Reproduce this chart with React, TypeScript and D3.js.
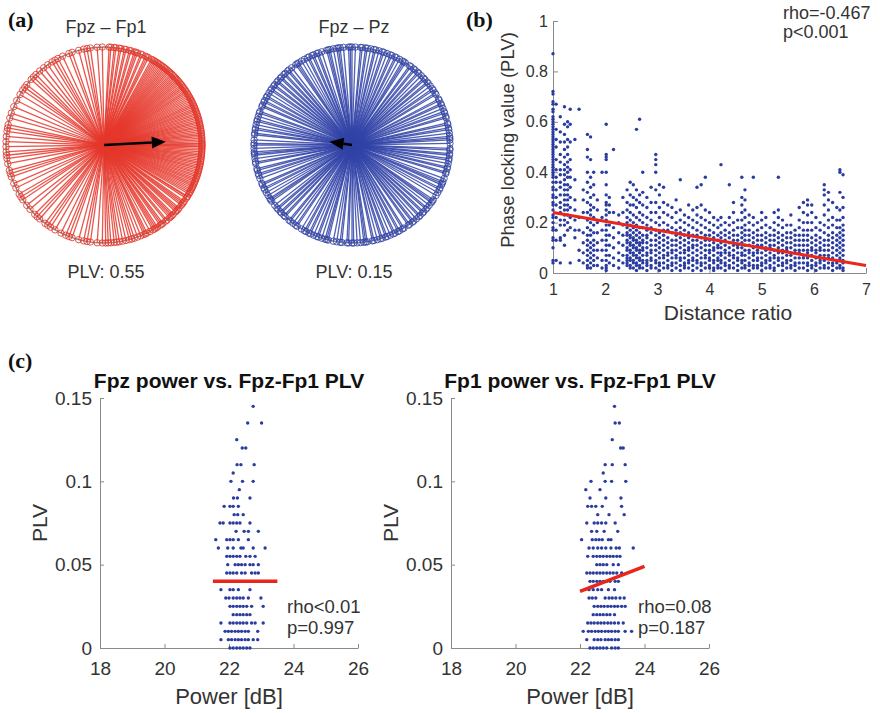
import React, { useRef, useEffect } from "react";
import * as d3 from "d3";

// (a) phase angles (deg, counter-clockwise from east) for each trial
const fp1Angles = [
  -89, -87.5, -86, -84, -82.5, -81, -79, -77, -75, -73.5, -72, -70, -68, -66, -65, -64, -62, -60, -59,
  -58, -57, -55, -54, -53, -51, -50, -48, -47, -46, -45, -43, -42, -41, -40, -38, -37, -36, -35, -33,
  -32, -31.5, -30, -29, -28, -27, -26, -25, -24, -23, -22, -21, -20, -19, -18, -17, -16, -15, -14, -13,
  -12, -11, -10, -9, -8, -7, -6, -5, -4, -3, -2, -1, -0.5, 0.5, 1, 2, 3, 4, 5, 6, 7, 8, 9, 10, 11, 12,
  13, 14, 15, 16, 17, 18, 19, 20, 21, 22, 23, 24, 25, 26, 27, 28, 29, 30, 31, 32, 33, 34, 35, 36, 37,
  38, 39, 40, 41, 42, 43, 44, 45, 46, 47, 48, 49, 50, 51, 52, 53, 54, 55, 56, 57, 58, 59, 60, 61, 63,
  64, 65, 67, 68, 70, 71, 72, 74, 75, 77, 78, 80, 81, 83, 84, 86, 87, 91, 94, 98, 100, 102, 105, 109,
  111, 115, 118, 120, 122, 125, 128, 131, 134, 136, 138, 142, 144, 146, 149, 153, 157, 161, 164, 168,
  170, 172, 175, 178, 181, 184, 186, 188, 191, 195, 197, 199, 203, 206, 210, 212, 214, 218, 221, 225,
  227, 229, 233, 235, 237, 240, 244, 247, 249, 251, 255, 258, 260, 262, 266, 269,
];
const pzAngles = [
  1, 3, 4, 5, 7, 9, 10, 12, 13, 16, 17, 19, 20, 22, 24, 25, 27, 28, 31, 32, 34, 35, 37, 39, 40, 42, 43,
  45, 47, 48, 50, 51, 53, 54, 57, 58, 59, 61, 63, 64, 66, 67, 69, 71, 72, 74, 76, 77, 79, 81, 82, 84,
  85, 88, 90, 91, 92, 95, 97, 98, 99, 101, 103, 104, 105, 108, 110, 111, 113, 114, 116, 117, 119, 121,
  123, 124, 125, 128, 130, 131, 133, 134, 136, 137, 139, 140, 142, 143, 145, 146, 148, 150, 151, 153,
  154, 156, 157, 160, 161, 163, 165, 166, 168, 170, 171, 173, 174, 177, 179, 180, 182, 184, 185, 186,
  188, 190, 191, 194, 195, 197, 198, 200, 203, 204, 206, 207, 209, 211, 213, 214, 215, 218, 220, 221,
  223, 224, 226, 227, 230, 231, 233, 235, 236, 239, 241, 242, 244, 245, 247, 249, 250, 252, 254, 255,
  256, 259, 261, 263, 264, 267, 268, 270, 271, 273, 275, 277, 278, 279, 282, 283, 285, 287, 288, 290,
  291, 293, 295, 296, 298, 299, 301, 302, 305, 306, 308, 309, 311, 313, 314, 316, 317, 319, 320, 322,
  324, 325, 326, 329, 331, 333, 334, 336, 337, 338, 340, 343, 344, 346, 347, 349, 351, 352, 354, 355,
  357, 358,
];
const pairTitles = ["Fpz \u2013 Fp1", "Fpz \u2013 Pz"];
const pairPlv = [0.55, 0.15];
const pairMeanAngle = [3, 172];
const pairColors = ["#e5372c", "#3143a7"];

// (b) PLV vs distance ratio; PLV values in hundredths, one list per ratio column
const ratioCols = [
  1.0, 1.06, 1.14, 1.22, 1.28, 1.33, 1.42, 1.5, 1.58, 1.66, 1.72, 1.78, 1.85, 1.94, 2.02, 2.08, 2.16,
  2.26, 2.34, 2.42, 2.48, 2.54, 2.6, 2.66, 2.72, 2.8, 2.88, 2.97, 3.04, 3.12, 3.2, 3.28, 3.36, 3.44,
  3.52, 3.6, 3.68, 3.76, 3.84, 3.92, 4.0, 4.08, 4.16, 4.22, 4.3, 4.38, 4.46, 4.54, 4.62, 4.68, 4.76,
  4.84, 4.92, 5.0, 5.08, 5.16, 5.24, 5.32, 5.4, 5.48, 5.56, 5.64, 5.72, 5.8, 5.88, 5.96, 6.04, 6.12,
  6.2, 6.28, 6.36, 6.44, 6.5, 6.56,
];
const plvCols = [
  [87, 72, 71, 68, 67, 65, 64, 62, 61, 60, 59, 58, 57, 56, 55, 54, 53, 52, 51, 50, 49, 48, 47, 46, 45, 44, 43, 42, 41, 40, 39, 38, 36, 34, 33, 31, 30, 28, 27, 25, 23, 22, 20, 18, 17, 14, 13, 10, 5, 4],
  [67, 57, 53, 50, 45, 41, 38, 36, 33, 30, 27, 22, 17, 13, 5],
  [62, 56, 52, 47, 44, 41, 39, 36, 34, 31, 28, 26, 24, 21, 19, 14, 13, 4],
  [66, 59, 55, 52, 49, 46, 43, 41, 39, 37, 35, 33, 31, 29, 27, 25, 23, 21, 19, 15, 11],
  [60, 58, 53, 50, 47, 44, 42, 40, 38, 35, 33, 31, 29, 27, 25, 23, 20, 17],
  [65, 59, 52, 45, 41, 38, 34, 30, 26, 22, 18, 4],
  [53, 37, 29, 25, 21, 17, 14],
  [65, 22, 17, 9, 5],
  [33, 29, 24, 16, 12, 8, 4],
  [55, 49, 46, 40, 36, 32, 28, 24, 21, 18, 15, 13, 11, 9, 7, 5, 3, 2],
  [54, 45, 38, 34, 30, 27, 25, 23, 20, 17, 15, 12, 10, 8, 6, 4, 2],
  [40, 35, 31, 26, 22, 19, 16, 13, 11, 9, 7, 5, 3],
  [29, 25, 20, 16, 12, 9, 6, 3],
  [40, 22, 17, 13, 9, 5, 2],
  [59, 47, 46, 45, 40, 35, 31, 28, 27, 25, 23, 21, 19, 17, 15, 13, 11, 9, 7, 5, 3, 2, 1],
  [30, 27, 24, 19, 15, 11, 7, 4],
  [49, 24, 18, 14, 10, 6, 3],
  [23, 20, 16, 12, 8, 5, 2],
  [30, 24, 19, 15, 11, 7, 4],
  [33, 28, 25, 22, 20, 18, 16, 15, 13, 12, 10, 9, 7, 6, 5, 4, 3],
  [36, 31, 27, 24, 21, 19, 17, 15, 14, 12, 11, 9, 8, 6, 5, 3, 2],
  [35, 30, 27, 23, 20, 18, 16, 14, 13, 11, 10, 8, 7, 5, 4, 2],
  [57, 33, 29, 26, 22, 19, 17, 15, 13, 12, 10, 9, 7, 6, 4, 3, 1],
  [61, 31, 28, 24, 21, 18, 16, 14, 12, 11, 9, 8, 6, 5, 3, 2],
  [40, 32, 27, 23, 20, 18, 15, 13, 12, 10, 9, 7, 5, 4, 2],
  [30, 26, 22, 19, 17, 15, 14, 12, 10, 8, 7, 5, 4, 3, 1],
  [34, 28, 24, 21, 18, 16, 13, 11, 9, 8, 6, 5, 3, 2],
  [47, 45, 43, 40, 33, 28, 24, 20, 17, 15, 13, 11, 9, 7, 5, 4, 2],
  [35, 31, 26, 22, 19, 16, 14, 12, 10, 8, 6, 4, 3, 1],
  [34, 28, 24, 20, 17, 15, 13, 11, 9, 7, 6, 4, 2],
  [27, 23, 19, 17, 14, 12, 10, 8, 7, 5, 3, 2],
  [26, 22, 18, 16, 13, 11, 9, 8, 6, 4, 3, 1],
  [29, 24, 20, 17, 15, 13, 11, 9, 7, 6, 4, 2],
  [37, 25, 21, 18, 16, 14, 12, 10, 8, 6, 5, 3, 1],
  [23, 20, 17, 15, 13, 11, 9, 8, 6, 4, 3, 2],
  [27, 22, 19, 16, 14, 12, 10, 9, 7, 5, 4, 2],
  [25, 21, 18, 15, 13, 11, 10, 8, 6, 5, 3, 1],
  [34, 26, 23, 20, 17, 15, 13, 11, 9, 7, 5, 4, 2],
  [35, 27, 22, 19, 16, 14, 12, 10, 8, 6, 4, 3, 1],
  [38, 25, 21, 18, 15, 13, 11, 9, 7, 6, 4, 2],
  [24, 20, 17, 15, 13, 11, 9, 8, 6, 5, 3, 2],
  [22, 19, 16, 14, 12, 10, 9, 7, 5, 4, 2, 1],
  [21, 18, 15, 13, 11, 10, 8, 6, 5, 3, 2],
  [43, 22, 19, 16, 14, 12, 10, 8, 7, 5, 4, 2],
  [20, 17, 15, 13, 11, 9, 8, 6, 4, 3, 1],
  [35, 22, 19, 16, 14, 12, 10, 8, 7, 5, 3, 2],
  [28, 24, 20, 17, 15, 13, 11, 9, 7, 6, 4, 2],
  [21, 18, 15, 13, 11, 10, 8, 6, 5, 3, 1],
  [38, 30, 27, 24, 21, 18, 16, 14, 12, 10, 8, 7, 5, 4, 2],
  [33, 29, 25, 22, 19, 17, 15, 13, 11, 9, 7, 5, 3, 2],
  [23, 20, 17, 15, 13, 11, 9, 8, 6, 4, 3, 1],
  [38, 22, 19, 16, 14, 12, 10, 8, 7, 5, 3, 2],
  [20, 17, 15, 13, 11, 9, 8, 6, 5, 3, 2],
  [24, 21, 18, 15, 13, 11, 10, 8, 6, 4, 3, 1],
  [22, 19, 16, 14, 12, 10, 9, 7, 5, 4, 2],
  [18, 15, 13, 11, 10, 8, 6, 5, 3, 2],
  [24, 20, 17, 15, 13, 11, 9, 7, 6, 4, 2, 1],
  [38, 25, 22, 19, 16, 14, 12, 10, 8, 6, 5, 3],
  [21, 18, 15, 13, 11, 9, 8, 6, 4, 3, 1],
  [19, 16, 14, 12, 10, 9, 7, 5, 4, 2],
  [23, 19, 16, 14, 12, 10, 8, 7, 5, 3, 2],
  [17, 15, 13, 11, 9, 8, 6, 4, 3, 1],
  [26, 21, 18, 15, 13, 11, 9, 8, 6, 4, 2],
  [28, 24, 20, 17, 15, 13, 11, 9, 7, 6, 4, 2],
  [29, 27, 23, 20, 17, 15, 13, 11, 9, 8, 6, 4, 3, 1],
  [27, 24, 20, 17, 14, 12, 10, 9, 7, 5, 3, 2],
  [22, 18, 15, 13, 11, 9, 8, 6, 4, 3, 1],
  [20, 17, 14, 12, 10, 9, 7, 5, 4, 2],
  [35, 33, 31, 27, 23, 19, 16, 13, 11, 9, 7, 5, 3, 2],
  [32, 29, 25, 21, 18, 15, 13, 11, 9, 7, 6, 4, 2],
  [28, 22, 19, 16, 14, 12, 10, 8, 6, 4, 3, 1],
  [26, 21, 18, 15, 13, 11, 9, 7, 5, 4, 2],
  [41, 40, 32, 25, 21, 18, 16, 14, 12, 10, 8, 6, 5, 3, 2],
  [39, 30, 26, 22, 19, 17, 15, 13, 11, 9, 7, 5, 4, 2, 1],
];
const distanceFit = [[1, 0.24], [7, 0.03]];
const ratioTicks = [1, 2, 3, 4, 5, 6, 7];
const plvTicksB = [0, 0.2, 0.4, 0.6, 0.8, 1];

// (c) PLV rows and the power values found on each row
const plvRows = [
  0.145, 0.135, 0.125, 0.12, 0.11, 0.105, 0.1, 0.095, 0.09, 0.085, 0.08, 0.075, 0.07, 0.065, 0.06,
  0.055, 0.05, 0.045, 0.04, 0.035, 0.03, 0.025, 0.02, 0.015, 0.01, 0.005, 0,
];
const fpzPower = [
  [22.75], [22.58, 23.01], [22.24], [22.41, 22.52], [22.25, 22.37, 22.78], [22.13],
  [22.06, 22.42, 22.75], [22.32], [22.14, 22.26, 22.65], [21.85, 22.03, 22.13, 22.29],
  [22.16, 22.27, 22.44], [21.72, 21.82, 22.03, 22.13, 22.24, 22.34, 22.65],
  [22.22, 22.47, 22.6, 22.91], [21.59, 21.93, 22.03, 22.13, 22.29, 22.6],
  [21.67, 21.96, 22.13, 22.37, 22.44, 22.75, 23.12],
  [21.93, 22.03, 22.13, 22.24, 22.34, 22.52, 22.65, 22.81],
  [21.96, 22.19, 22.29, 22.39, 22.5, 22.65, 22.75, 22.91],
  [21.93, 22.03, 22.13, 22.24, 22.39, 22.5, 22.7, 22.81, 22.91],
  [],
  [21.75, 22.03, 22.13, 22.29, 22.65],
  [21.9, 22.0, 22.13, 22.24, 22.34, 22.44, 22.6, 22.99],
  [22.03, 22.13, 22.24, 22.34, 22.44, 22.55, 22.7, 23.06],
  [22.13, 22.24, 22.34, 22.44, 22.55, 22.65],
  [21.75, 22.03, 22.13, 22.24, 22.34, 22.44, 22.55, 22.7, 22.81, 23.06],
  [21.88, 21.98, 22.08, 22.19, 22.29, 22.39, 22.5, 22.6, 22.89],
  [21.75, 21.98, 22.08, 22.19, 22.29, 22.39, 22.5, 22.6, 22.75, 22.89],
  [22.03, 22.13, 22.24, 22.34, 22.44, 22.55, 22.65],
];
const fp1Power = [
  [23.07], [23.09, 23.22], [23.0], [23.26, 23.34], [22.78, 23.0, 23.4], [22.72],
  [22.34, 22.78, 22.98, 23.42], [22.18, 22.62], [22.31, 22.8, 23.27],
  [22.24, 22.36, 22.49, 22.69, 23.29], [22.55, 22.9, 23.37],
  [22.21, 22.44, 22.55, 22.67, 22.8, 23.09], [22.36, 22.52, 22.75, 23.17],
  [22.05, 22.38, 22.49, 22.59, 22.69, 22.88, 22.96],
  [22.28, 22.41, 22.55, 22.67, 22.8, 22.96, 23.12, 23.22, 23.65],
  [22.24, 22.41, 22.52, 22.62, 22.72, 22.83, 22.93, 23.03, 23.14, 23.24],
  [22.52, 22.62, 22.72, 22.83, 23.03, 23.19],
  [22.21, 22.31, 22.41, 22.52, 22.62, 22.72, 22.83, 22.93, 23.03, 23.14, 23.29],
  [22.31, 22.41, 22.52, 22.62, 22.72, 22.83, 22.93, 23.09, 23.19],
  [22.28, 22.41, 22.55, 22.67, 22.88, 23.07],
  [22.28, 22.38, 22.49, 22.78, 22.9, 23.0, 23.11, 23.24, 23.37],
  [22.44, 22.55, 22.65, 22.75, 22.86, 22.96, 23.07, 23.17, 23.29, 23.4],
  [22.41, 22.52, 22.62, 22.72, 22.83, 22.93, 23.07],
  [22.24, 22.34, 22.44, 22.55, 22.65, 22.75, 22.86, 22.96, 23.07, 23.19, 23.34],
  [22.1, 22.26, 22.36, 22.47, 22.57, 22.67, 22.78, 22.88, 22.98, 23.09, 23.19, 23.4, 23.6],
  [22.21, 22.44, 22.55, 22.65, 22.78, 22.88, 22.98, 23.09, 23.19],
  [22.31, 22.41, 22.52, 22.62, 22.72, 22.83, 22.98, 23.09, 23.19],
];
const fpzFit = [[21.5, 0.04], [23.5, 0.04]];
const fp1Fit = [[22.0, 0.034], [24.0, 0.049]];
const powerTitles = ["Fpz power vs. Fpz-Fp1 PLV", "Fp1 power vs. Fpz-Fp1 PLV"];
const powerStats = [["rho<0.01", "p=0.997"], ["rho=0.08", "p=0.187"]];
const powerTicks = [18, 20, 22, 24, 26];
const plvTicksC = [0, 0.05, 0.1, 0.15];

const FONT = "'Liberation Sans', Arial, sans-serif";
const DOT = "#2a3c9f";
const FIT = "#e8261c";
const AXIS = "#8a8a8a";
const TEXT = "#333";

function styleAxis(g, size) {
  g.select(".domain").attr("stroke", AXIS).attr("stroke-width", 1);
  g.selectAll(".tick line").attr("stroke", AXIS);
  g.selectAll(".tick text").attr("fill", TEXT).style("font-size", size + "px").style("font-family", FONT);
}

export default function App() {
  const ref = useRef(null);

  useEffect(() => {
    const svg = d3.select(ref.current);
    svg.selectAll("*").remove();

    const label = (x, y, t, opts = {}) =>
      svg
        .append("text")
        .attr("x", x)
        .attr("y", y)
        .attr("text-anchor", opts.anchor || "start")
        .attr("transform", opts.rotate ? `rotate(-90,${x},${y})` : null)
        .style("font-family", opts.family || FONT)
        .style("font-size", (opts.size || 18) + "px")
        .style("font-weight", opts.bold ? "bold" : "normal")
        .attr("fill", opts.fill || TEXT)
        .text(t);

    // panel letters
    label(8, 27, "(a)", { family: "'Liberation Serif', serif", size: 22, bold: true, fill: "#111" });
    label(466, 27, "(b)", { family: "'Liberation Serif', serif", size: 22, bold: true, fill: "#111" });
    label(8, 368, "(c)", { family: "'Liberation Serif', serif", size: 22, bold: true, fill: "#111" });

    // (a) polar plots
    const anglesByPair = [fp1Angles, pzAngles];
    const centers = [[104, 145], [352, 145]];
    const rScale = d3.scaleLinear().domain([0, 1]).range([0, 98]);
    anglesByPair.forEach((angles, i) => {
      const [cx, cy] = centers[i];
      const g = svg.append("g").attr("transform", `translate(${cx},${cy})`);
      const toRad = (deg) => ((90 - deg) * Math.PI) / 180;
      g.append("circle").attr("r", rScale(1)).attr("fill", "none").attr("stroke", AXIS).attr("stroke-width", 1.5);
      g.selectAll("line.spoke")
        .data(angles)
        .join("line")
        .attr("x1", 0)
        .attr("y1", 0)
        .attr("x2", (d) => d3.pointRadial(toRad(d), rScale(1))[0])
        .attr("y2", (d) => d3.pointRadial(toRad(d), rScale(1))[1])
        .attr("stroke", pairColors[i])
        .attr("stroke-opacity", 0.85)
        .attr("stroke-width", 1.3);
      g.selectAll("circle.mark")
        .data(angles)
        .join("circle")
        .attr("cx", (d) => d3.pointRadial(toRad(d), rScale(1))[0])
        .attr("cy", (d) => d3.pointRadial(toRad(d), rScale(1))[1])
        .attr("r", 3.2)
        .attr("fill", "none")
        .attr("stroke", pairColors[i])
        .attr("stroke-opacity", 0.85)
        .attr("stroke-width", 1);
      // mean vector arrow
      const a = toRad(pairMeanAngle[i]);
      const tipLen = rScale(pairPlv[i]) + 8;
      const tip = d3.pointRadial(a, tipLen);
      const base = d3.pointRadial(a, tipLen - 14);
      const perp = a + Math.PI / 2;
      const w1 = d3.pointRadial(perp, 6);
      g.append("line")
        .attr("x1", 0)
        .attr("y1", 0)
        .attr("x2", base[0])
        .attr("y2", base[1])
        .attr("stroke", "#000")
        .attr("stroke-width", 2.5);
      g.append("path")
        .attr(
          "d",
          d3.line()([
            tip,
            [base[0] + w1[0], base[1] + w1[1]],
            [base[0] - w1[0], base[1] - w1[1]],
          ]) + "Z"
        )
        .attr("fill", "#000");
      label(cx + 2, 33, pairTitles[i], { anchor: "middle", size: 18 });
      label(cx + 2, 278, "PLV: " + pairPlv[i].toFixed(2), { anchor: "middle", size: 18 });
    });

    // (b) scatter
    const xB = d3.scaleLinear().domain([1, 7]).range([553, 866]);
    const yB = d3.scaleLinear().domain([0, 1]).range([273, 21]);
    const ptsB = ratioCols.flatMap((r, i) => plvCols[i].map((v) => [r, v / 100]));
    svg
      .append("g")
      .attr("transform", "translate(0,273)")
      .call(d3.axisBottom(xB).tickValues(ratioTicks).tickFormat((d) => String(d)).tickSizeInner(-5).tickSizeOuter(0).tickPadding(11))
      .call((g) => styleAxis(g, 16));
    svg
      .append("g")
      .attr("transform", "translate(553,0)")
      .call(d3.axisLeft(yB).tickValues(plvTicksB).tickFormat((d) => String(d)).tickSizeInner(-5).tickSizeOuter(0).tickPadding(5))
      .call((g) => styleAxis(g, 16));
    svg
      .append("g")
      .selectAll("circle")
      .data(ptsB)
      .join("circle")
      .attr("cx", (d) => xB(d[0]))
      .attr("cy", (d) => yB(d[1]))
      .attr("r", 1.7)
      .attr("fill", DOT);
    svg
      .append("path")
      .attr("d", d3.line().x((d) => xB(d[0])).y((d) => yB(d[1]))(distanceFit))
      .attr("stroke", FIT)
      .attr("stroke-width", 3)
      .attr("fill", "none");
    label(728, 320, "Distance ratio", { anchor: "middle", size: 21 });
    label(514, 140, "Phase locking value (PLV)", { anchor: "middle", size: 18.5, rotate: true });
    label(783, 19, "rho=-0.467", { size: 18 });
    label(783, 38, "p<0.001", { size: 18 });

    // (c) power scatters
    const powerSets = [fpzPower, fp1Power];
    const fits = [fpzFit, fp1Fit];
    const xStarts = [100, 451];
    powerSets.forEach((rows, i) => {
      const x0 = xStarts[i];
      const x = d3.scaleLinear().domain([18, 26]).range([x0, x0 + 258]);
      const y = d3.scaleLinear().domain([0, 0.15]).range([648, 398]);
      svg
        .append("g")
        .attr("transform", "translate(0,648)")
        .call(d3.axisBottom(x).tickValues(powerTicks).tickSizeInner(-4).tickSizeOuter(0).tickPadding(14))
        .call((g) => styleAxis(g, 19));
      svg
        .append("g")
        .attr("transform", `translate(${x0},0)`)
        .call(d3.axisLeft(y).tickValues(plvTicksC).tickFormat((d) => String(d)).tickSizeInner(-4).tickSizeOuter(0).tickPadding(8))
        .call((g) => styleAxis(g, 19));
      const pts = plvRows.flatMap((p, j) => rows[j].map((pw) => [pw, p]));
      svg
        .append("g")
        .selectAll("circle")
        .data(pts)
        .join("circle")
        .attr("cx", (d) => x(d[0]))
        .attr("cy", (d) => y(d[1]))
        .attr("r", 1.7)
        .attr("fill", DOT);
      svg
        .append("path")
        .attr("d", d3.line().x((d) => x(d[0])).y((d) => y(d[1]))(fits[i]))
        .attr("stroke", FIT)
        .attr("stroke-width", 3.5)
        .attr("fill", "none");
      label(x0 + 129, 388, powerTitles[i], { anchor: "middle", size: 21, bold: true, fill: "#111" });
      label(x0 + 129, 704, "Power [dB]", { anchor: "middle", size: 22 });
      label(x0 - 53, 523, "PLV", { anchor: "middle", size: 21, rotate: true });
      label(x0 + 187, 613, powerStats[i][0], { size: 18.5 });
      label(x0 + 187, 634, powerStats[i][1], { size: 18.5 });
    });
  }, []);

  return (
    <svg
      ref={ref}
      width="880"
      height="713"
      style={{ position: "absolute", left: 0, top: 0, background: "#fff" }}
    ></svg>
  );
}
